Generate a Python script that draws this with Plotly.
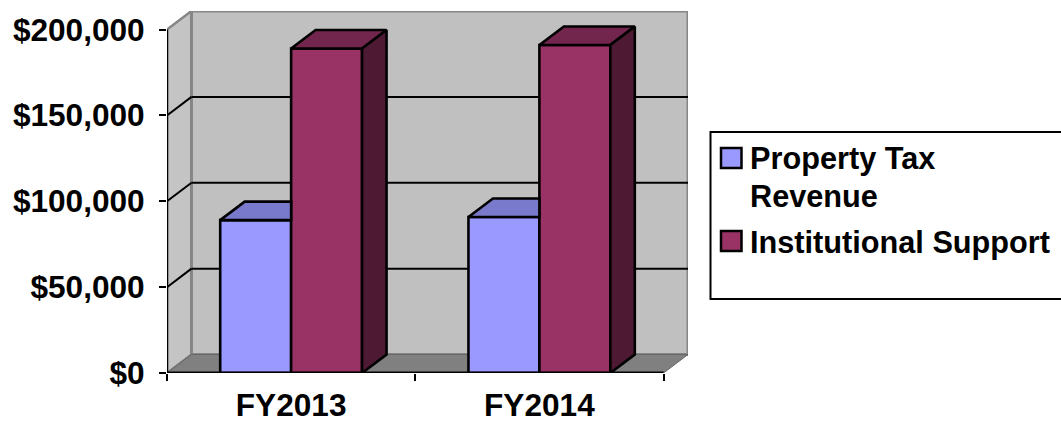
import plotly.graph_objects as go

# Values in dollars, by fiscal year
categories = ["FY2013", "FY2014"]
property_tax = [89000, 90800]
institutional = [188900, 191000]
y_ticks = [0, 50000, 100000, 150000, 200000]
y_tick_labels = ["$0", "$50,000", "$100,000", "$150,000", "$200,000"]

W, H = 1061, 424
LEFT, RIGHT, TOP, BOTTOM = 167, 373, 11, 51

BAR_W = 1 / 3.5        # gap width of 150% of a bar
Y_MAX = 200000
DEPTH_X = 24.5 / 248.5  # receding offset of the pseudo-3D box, in axis units
DEPTH_Y = 18.5 / 343.5 * Y_MAX
X0, X1 = -0.5, 1.5
EDGE_W = 2.6

BLUE, BLUE_TOP = "#9999FF", "#7A7ACC"
MAROON, MAROON_TOP, MAROON_SIDE = "#993366", "#73264D", "#4D1933"
WALL, SIDE_WALL, FLOOR, EDGE = "#C0C0C0", "#C4C4C4", "#808080", "#868686"
FONT = dict(family="Liberation Sans, Arial, sans-serif", size=30.7, color="black", weight="bold")
TICK_FONT = dict(FONT, size=31.6)


def poly(xs, ys, close=True):
    path = "M" + " L".join(f"{x},{y}" for x, y in zip(xs, ys))
    return path + " Z" if close else path


def face(xs, ys, color):
    return go.Scatter(
        x=xs + xs[:1], y=ys + ys[:1], mode="lines", fill="toself", fillcolor=color,
        line=dict(color="black", width=EDGE_W), hoverinfo="skip", showlegend=False, cliponaxis=False,
    )


positions = list(range(len(categories)))
fig = go.Figure()

# Front faces of the columns
fig.add_bar(x=[p - BAR_W / 2 for p in positions], y=property_tax, width=BAR_W, name="Property Tax Revenue",
            marker=dict(color=BLUE, line=dict(color="black", width=EDGE_W)), cliponaxis=False, showlegend=False)
fig.add_bar(x=[p + BAR_W / 2 for p in positions], y=institutional, width=BAR_W, name="Institutional Support",
            marker=dict(color=MAROON, line=dict(color="black", width=EDGE_W)), cliponaxis=False, showlegend=False)

# Top and side faces; the short column's top stops where the tall column begins
for p, low, high in zip(positions, property_tax, institutional):
    a, b, c = p - BAR_W, p, p + BAR_W
    fig.add_trace(face([a, a + DEPTH_X, b, b], [low, low + DEPTH_Y, low + DEPTH_Y, low], BLUE_TOP))
    fig.add_trace(face([b, b + DEPTH_X, c + DEPTH_X, c], [high, high + DEPTH_Y, high + DEPTH_Y, high], MAROON_TOP))
    fig.add_trace(face([c, c + DEPTH_X, c + DEPTH_X, c], [0, DEPTH_Y, high + DEPTH_Y, high], MAROON_SIDE))

# Axis lines along the front of the box
for xs, ys, w in (([X0, X0], [0, Y_MAX], 2.4), ([X0, X1], [0, 0], 3)):
    fig.add_trace(go.Scatter(x=xs, y=ys, mode="lines", line=dict(color="black", width=w),
                             hoverinfo="skip", showlegend=False, cliponaxis=False))

bx0, bx1 = X0 + DEPTH_X, X1 + DEPTH_X
shapes = [
    dict(type="path", path=poly([X0, bx0, bx0, X0], [0, DEPTH_Y, Y_MAX + DEPTH_Y, Y_MAX]),
         fillcolor=SIDE_WALL, line=dict(color=EDGE, width=2.5)),
    dict(type="rect", x0=bx0, x1=bx1, y0=DEPTH_Y, y1=Y_MAX + DEPTH_Y, fillcolor=WALL,
         line=dict(color=EDGE, width=3)),
    dict(type="path", path=poly([X0, bx0, bx1, X1], [0, DEPTH_Y, DEPTH_Y, 0]),
         fillcolor=FLOOR, line=dict(color="#666666", width=1)),
]
# Gridlines run across the back wall and down the side wall
for v in y_ticks[1:-1]:
    shapes.append(dict(type="line", x0=bx0, x1=bx1, y0=v + DEPTH_Y, y1=v + DEPTH_Y,
                       line=dict(color="black", width=2)))
    shapes.append(dict(type="line", x0=X0, x1=bx0, y0=v, y1=v + DEPTH_Y,
                       line=dict(color="black", width=2)))
for s in shapes:
    s["layer"] = "below"
    s["xref"] = "x"
    s["yref"] = "y"


def px(x):
    return (x - LEFT) / (W - LEFT - RIGHT)


def py(y):
    return (H - BOTTOM - y) / (H - TOP - BOTTOM)


# Legend panel, open on its right side where it runs off the page
shapes.append(dict(type="path", xref="paper", yref="paper",
                   path=poly([px(1064), px(710.5), px(710.5), px(1064)], [py(132), py(132), py(299), py(299)], close=False),
                   fillcolor="white", line=dict(color="black", width=2)))
legend_rows = [("Property Tax", 158, BLUE, 159), ("Revenue", None, None, 196), ("Institutional Support", 241, MAROON, 242)]
annotations = []
for text, swatch_mid, color, text_mid in legend_rows:
    if swatch_mid is not None:
        shapes.append(dict(type="rect", xref="paper", yref="paper", x0=px(721), x1=px(741.5),
                           y0=py(swatch_mid - 10), y1=py(swatch_mid + 10), fillcolor=color,
                           line=dict(color="black", width=2.5)))
    annotations.append(dict(xref="paper", yref="paper", x=px(748), y=py(text_mid), text=text, showarrow=False,
                            xanchor="left", yanchor="middle", align="left", font=FONT))

fig.update_layout(
    width=W, height=H, margin=dict(l=LEFT, r=RIGHT, t=TOP, b=BOTTOM, pad=0, autoexpand=False),
    paper_bgcolor="white", plot_bgcolor="white", barmode="overlay", showlegend=False,
    shapes=shapes, annotations=annotations, font=FONT,
    xaxis=dict(range=[X0, bx1], tickmode="array", tickvals=positions, ticktext=categories, automargin=False,
               showgrid=False, zeroline=False, showline=False, ticks="", ticklabelstandoff=10,
               tickfont=TICK_FONT,
               minor=dict(tickmode="array", tickvals=[X0, 0.5, X1], ticks="outside", ticklen=7,
                          tickwidth=2, tickcolor="black", showgrid=False)),
    yaxis=dict(range=[0, Y_MAX + DEPTH_Y], tickmode="array", tickvals=y_ticks, ticktext=y_tick_labels, automargin=False,
               showgrid=False, zeroline=False, showline=False, ticks="outside", ticklen=7, tickwidth=2,
               tickcolor="black", ticklabelstandoff=8, tickfont=TICK_FONT),
)

fig.write_html("out.html")
